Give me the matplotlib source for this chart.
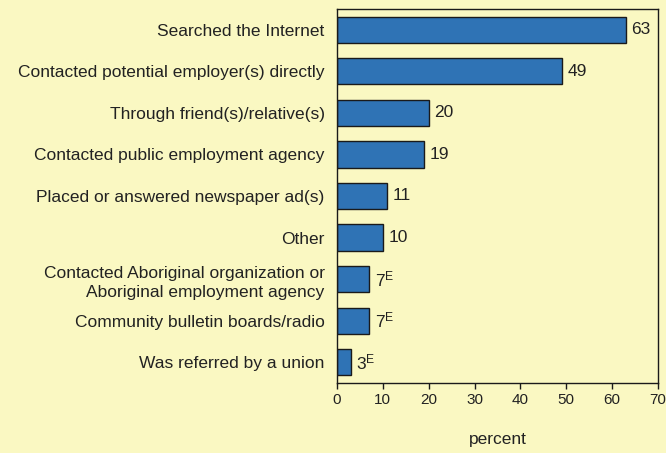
import matplotlib
matplotlib.use("Agg")
import matplotlib.pyplot as plt
from matplotlib import font_manager

names = {f.name for f in font_manager.fontManager.ttflist}
fam = "Liberation Sans Narrow" if "Liberation Sans Narrow" in names else "Liberation Sans"
plt.rcParams['font.family'] = [fam, 'DejaVu Sans']
plt.rcParams['mathtext.fontset'] = 'custom'
plt.rcParams['mathtext.rm'] = fam
plt.rcParams['mathtext.it'] = fam

categories = [
    "Searched the Internet",
    "Contacted potential employer(s) directly",
    "Through friend(s)/relative(s)",
    "Contacted public employment agency",
    "Placed or answered newspaper ad(s)",
    "Other",
    "Contacted Aboriginal organization or\nAboriginal employment agency",
    "Community bulletin boards/radio",
    "Was referred by a union",
]
values = [63, 49, 20, 19, 11, 10, 7, 7, 3]
flags = ["", "", "", "", "", "", "E", "E", "E"]
xticks = [0, 10, 20, 30, 40, 50, 60, 70]

bg = "#FAF8C2"
bar_color = "#2F73B5"
fs = 12.5

fig = plt.figure(figsize=(6.66, 4.53), dpi=100, facecolor=bg)
ax = fig.add_axes([337/666, 1-383/453, (658-337)/666, (383-9)/453], facecolor=bg)

y = list(range(len(categories)))
ax.barh(y, values, height=0.63, color=bar_color, edgecolor="#1a1a1a", linewidth=1.0)
for yi, v, f in zip(y, values, flags):
    s = f"$\\mathregular{{{v}^{{{f}}}}}$" if f else str(v)
    ax.annotate(s, (v, yi), xytext=(4, 0), textcoords="offset points",
                va="center", ha="left", fontsize=fs, color="#222222")

ax.set_ylim(len(categories) - 0.5, -0.5)
ax.set_xlim(0, 70)
ax.set_yticks(y)
ax.set_yticklabels(categories, fontsize=fs, color="#222222")
for lab in ax.get_yticklabels():
    lab.set_linespacing(1.35)
ax.tick_params(axis="y", length=0, pad=9)
ax.set_xticks(xticks)
ax.set_xticklabels([str(t) for t in xticks], fontsize=11, color="#222222")
ax.tick_params(axis="x", direction="out", length=4, width=1, color="#1a1a1a", pad=3)
ax.set_xlabel("percent", fontsize=fs, color="#222222", labelpad=18)
for sp in ax.spines.values():
    sp.set_color("#1a1a1a")
    sp.set_linewidth(1.0)

fig.savefig("out.png", dpi=100, facecolor=bg)
